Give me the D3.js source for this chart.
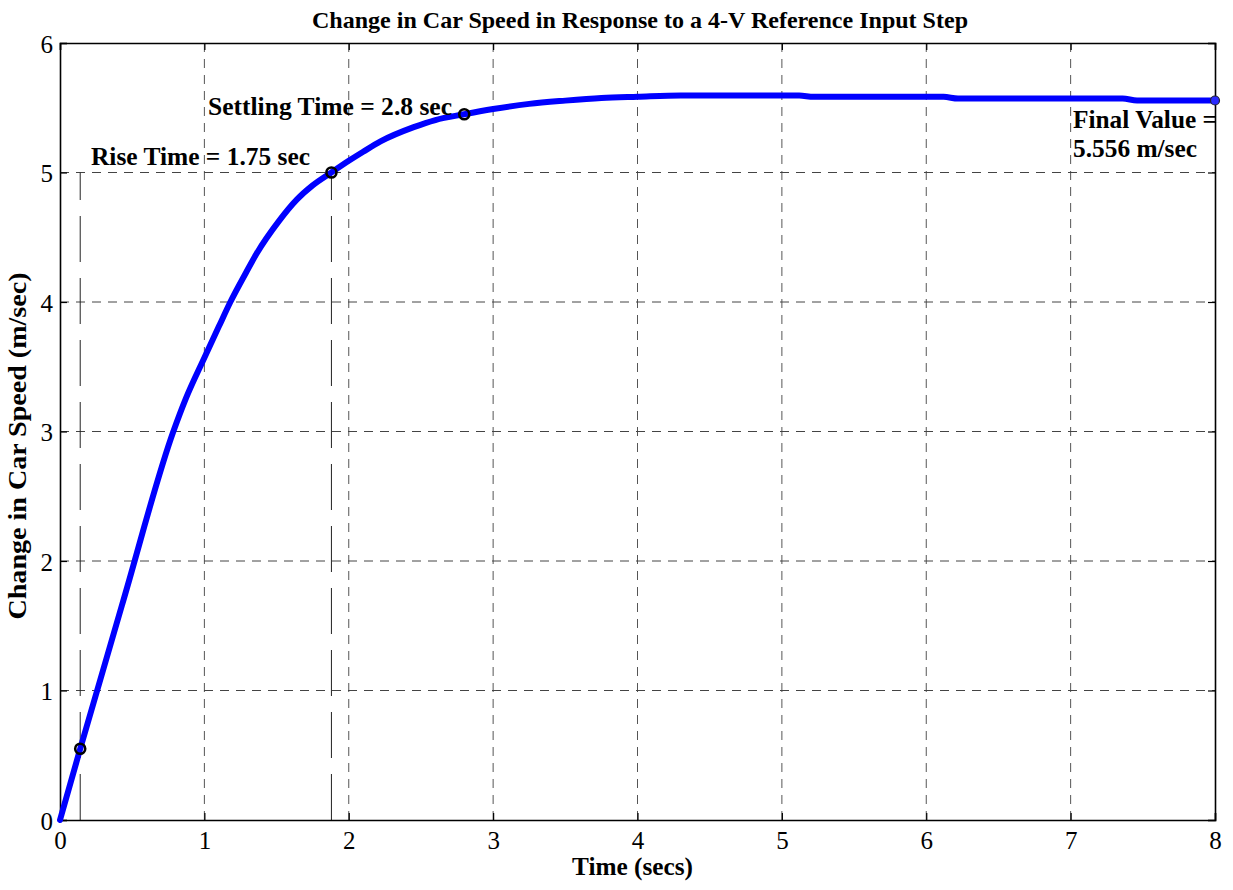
<!DOCTYPE html>
<html>
<head>
<meta charset="utf-8">
<script src="https://cdnjs.cloudflare.com/ajax/libs/d3/7.8.5/d3.min.js"></script>
<style>
  html, body { margin: 0; padding: 0; background: #fff; }
  svg { display: block; font-family: "Liberation Serif", "Times New Roman", serif; }
</style>
</head>
<body>
<svg id="chart" width="1233" height="890"></svg>
<script>
// ---- data ----
const timeValues  = [0, 0.14, 0.44, 0.785, 0.87, 1.0, 1.1, 1.18, 1.29, 1.36, 1.52, 1.64, 1.75, 1.88, 2.0, 2.1, 2.22, 2.45, 2.6, 2.8, 3.0, 3.25, 3.5, 3.75, 4.0, 4.3, 5.12, 5.22, 6.12, 6.22, 7.36, 7.46, 8.0];
const speedValues = [0, 0.55, 1.70, 3.0, 3.25, 3.57, 3.81, 4.0, 4.23, 4.37, 4.63, 4.79, 4.90, 5.0, 5.09, 5.16, 5.24, 5.35, 5.405, 5.45, 5.49, 5.53, 5.555, 5.575, 5.585, 5.595, 5.595, 5.584, 5.584, 5.571, 5.571, 5.556, 5.556];
const markerT = [0.14, 1.88, 2.8];
const markerV = [0.55, 5.0, 5.45];
const finalT = 8, finalV = 5.556;
const riseLinesT = [0.14, 1.88];
const riseLineTop = 5.0;
const xTicks = [0, 1, 2, 3, 4, 5, 6, 7, 8];
const yTicks = [0, 1, 2, 3, 4, 5, 6];
const titleText = "Change in Car Speed in Response to a 4-V Reference Input Step";
const xLabelText = "Time (secs)";
const yLabelText = "Change in Car Speed (m/sec)";

// ---- layout ----
const svg = d3.select("#chart");
const L = 60, R = 1215, T = 43, B = 820;
const x = d3.scaleLinear().domain([0, 8]).range([L, R]);
const y = d3.scaleLinear().domain([0, 6]).range([B, T]);

// grid
const grid = svg.append("g");
grid.selectAll("line.vg").data(xTicks.slice(1, -1)).join("line")
  .attr("x1", d => x(d)).attr("x2", d => x(d)).attr("y1", T).attr("y2", B)
  .attr("stroke", "#555").attr("stroke-width", 1).attr("stroke-dasharray", "9,7");
grid.selectAll("line.hg").data(yTicks.slice(1, -1)).join("line")
  .attr("x1", L).attr("x2", R).attr("y1", d => y(d)).attr("y2", d => y(d))
  .attr("stroke", "#444").attr("stroke-width", 1).attr("stroke-dasharray", "9,7");

// rise-time guide lines
svg.append("g").selectAll("line").data(riseLinesT).join("line")
  .attr("x1", d => x(d)).attr("x2", d => x(d))
  .attr("y1", y(0)).attr("y2", y(riseLineTop))
  .attr("stroke", "#222").attr("stroke-width", 1).attr("stroke-dasharray", "46,16");

// axes (box)
const ax = svg.append("g");
const xAxisB = d3.axisBottom(x).tickValues(xTicks).tickSize(-7).tickPadding(11).tickFormat(d3.format("d"));
const xAxisT = d3.axisTop(x).tickValues(xTicks).tickSize(-7).tickFormat("");
const yAxisL = d3.axisLeft(y).tickValues(yTicks).tickSize(-7).tickPadding(7).tickFormat(d3.format("d"));
const yAxisR = d3.axisRight(y).tickValues(yTicks).tickSize(-7).tickFormat("");
const gB = ax.append("g").attr("transform", `translate(0,${B})`).call(xAxisB);
const gT = ax.append("g").attr("transform", `translate(0,${T})`).call(xAxisT);
const gL = ax.append("g").attr("transform", `translate(${L},0)`).call(yAxisL);
const gR = ax.append("g").attr("transform", `translate(${R},0)`).call(yAxisR);
[gB, gT, gL, gR].forEach(g => {
  g.select(".domain").attr("stroke", "#000").attr("stroke-width", 1.6);
  g.selectAll(".tick line").attr("stroke", "#000").attr("stroke-width", 1.2);
  g.selectAll(".tick text").attr("fill", "#000")
    .style("font-family", '"Liberation Serif", serif').style("font-size", "25px");
});
gB.selectAll(".tick text").attr("dy", "0.71em");
gL.selectAll(".tick text").attr("dy", "0.36em");

// curve
const pts = timeValues.map((t, i) => [t, speedValues[i]]);
svg.append("path").datum(pts)
  .attr("fill", "none").attr("stroke", "#0000ff").attr("stroke-width", 6)
  .attr("stroke-linejoin", "round").attr("stroke-linecap", "round")
  .attr("d", d3.line().x(d => x(d[0])).y(d => y(d[1])).curve(d3.curveMonotoneX));

// markers
svg.append("g").selectAll("circle").data(markerT.map((t, i) => [t, markerV[i]])).join("circle")
  .attr("cx", d => x(d[0])).attr("cy", d => y(d[1])).attr("r", 5)
  .attr("fill", "none").attr("stroke", "#000").attr("stroke-width", 2.6);
svg.append("circle").attr("cx", x(finalT)).attr("cy", y(finalV)).attr("r", 4.5)
  .attr("fill", "#2a2aff").attr("stroke", "#223").attr("stroke-width", 1.2);

// annotations
const ann = svg.append("g").attr("font-weight", "bold").attr("font-size", 25).attr("fill", "#000");
ann.append("text").attr("x", 208).attr("y", 115).attr("textLength", 244).attr("lengthAdjust", "spacingAndGlyphs").text("Settling Time = 2.8 sec");
ann.append("text").attr("x", 91).attr("y", 165).attr("textLength", 219).attr("lengthAdjust", "spacingAndGlyphs").text("Rise Time = 1.75 sec");
ann.append("text").attr("x", 1073).attr("y", 128).attr("textLength", 144).attr("lengthAdjust", "spacingAndGlyphs").text("Final Value =");
ann.append("text").attr("x", 1073).attr("y", 157).attr("textLength", 124).attr("lengthAdjust", "spacingAndGlyphs").text("5.556 m/sec");

// title and axis labels
svg.append("text").attr("x", 640).attr("y", 28).attr("text-anchor", "middle")
  .attr("font-weight", "bold").attr("font-size", 24)
  .attr("textLength", 656).attr("lengthAdjust", "spacingAndGlyphs")
  .text(titleText);
svg.append("text").attr("x", 632.5).attr("y", 875).attr("text-anchor", "middle")
  .attr("font-weight", "bold").attr("font-size", 25)
  .attr("textLength", 121).attr("lengthAdjust", "spacingAndGlyphs").text(xLabelText);
svg.append("text").attr("transform", "translate(26,446) rotate(-90)").attr("text-anchor", "middle")
  .attr("font-weight", "bold").attr("font-size", 25)
  .attr("textLength", 347).attr("lengthAdjust", "spacingAndGlyphs").text(yLabelText);
</script>
</body>
</html>
